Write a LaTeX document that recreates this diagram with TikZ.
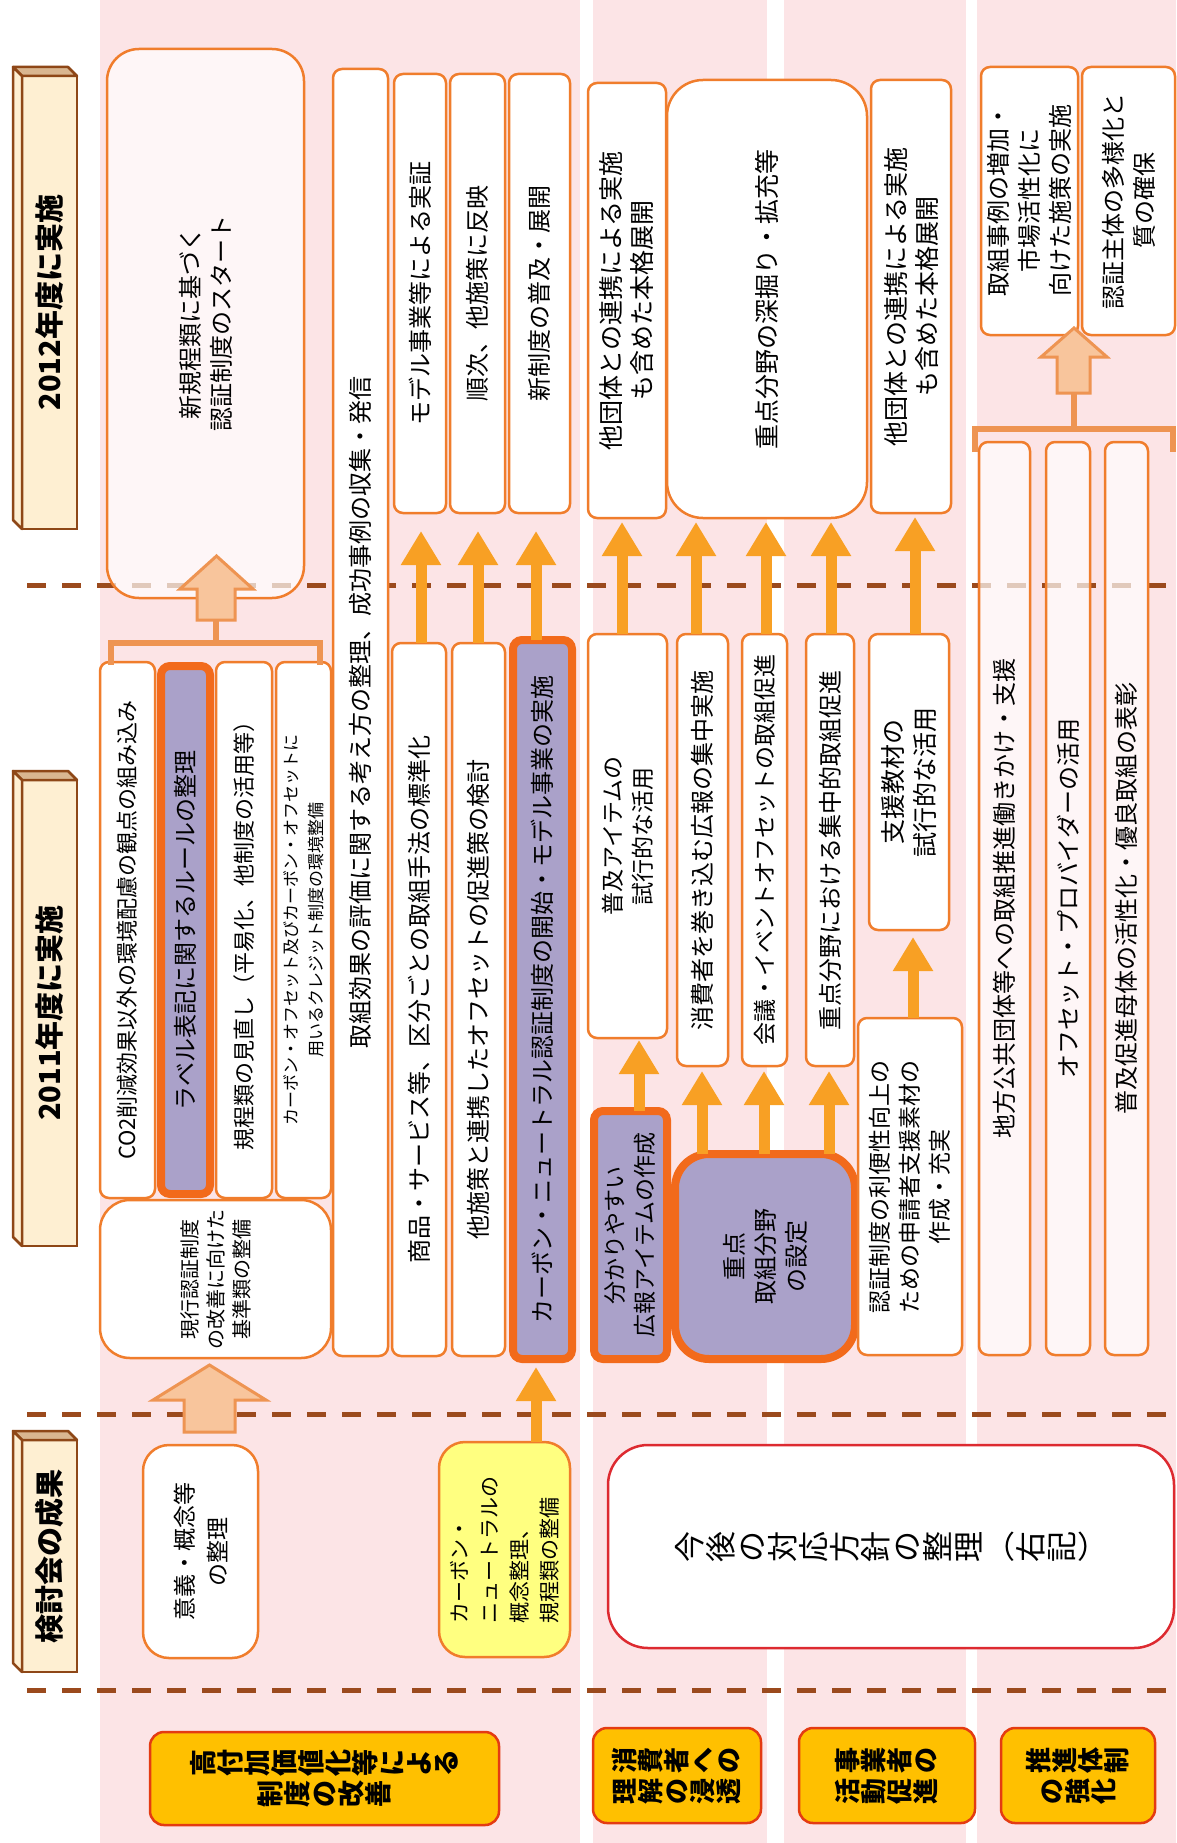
\documentclass[tikz,border=0pt]{standalone}
\usepackage{fontspec}
\setmainfont{Noto Sans CJK JP}
\usepackage{graphicx}
\usetikzlibrary{arrows.meta}
\definecolor{bgpink}{HTML}{FCE4E6}
\definecolor{edge}{HTML}{F07D2C}
\definecolor{edgeHot}{HTML}{F26A1B}
\definecolor{lilac}{HTML}{AAA1C9}
\definecolor{flow}{HTML}{F8A024}
\definecolor{fat}{HTML}{F8C59C}
\definecolor{fatEdge}{HTML}{EE9452}
\definecolor{gold}{HTML}{FFC000}
\definecolor{goldEdge}{HTML}{E43B12}
\definecolor{lemon}{HTML}{FFFF80}
\definecolor{redEdge}{HTML}{DD2A30}
\definecolor{ruleBrown}{HTML}{9B4A1D}
\definecolor{cream}{HTML}{FEEFD2}
\definecolor{creamTop}{HTML}{D9B690}
\definecolor{barEdge}{HTML}{8E4717}
\newcommand\tate[1]{\tateloop#1\relax}
\def\tateloop#1{\ifx\relax#1\else\rotatebox[origin=c]{90}{\makebox[1em][c]{\rule[-0.12em]{0pt}{1em}\smash{#1}}}\expandafter\tateloop\fi}

\begin{document}
\begin{tikzpicture}[x=1pt, y=-1pt,
  vbox/.style={draw=edge, line width=2.5pt, fill=white, rounded corners=9pt, inner sep=0pt, outer sep=0pt, align=center, rotate=90, font=\fontsize{24}{31}\selectfont},
  keybox/.style={vbox, draw=edgeHot, line width=8pt, fill=lilac},
  thinbox/.style={vbox, fill opacity=0.7, text opacity=1},
  yearbar/.style={draw=barEdge, line width=2.5pt, fill=cream, inner sep=0pt, outer sep=0pt, rotate=90, font=\bfseries\fontsize{29}{34}\selectfont},
  barface/.style={draw=barEdge, line width=2.5pt, line join=round},
  theme/.style={draw=goldEdge, line width=2.5pt, fill=gold, rounded corners=14pt, inner sep=0pt, align=center, font=\bfseries\fontsize{26}{31}\selectfont},
  flowarrow/.style={draw=flow, line width=11pt, -{Triangle[width=38pt,length=34pt]}},
  fatarrow/.style={draw=fatEdge, line width=3pt, fill=fat, line join=miter},
  bracket/.style={draw=fatEdge, line width=6pt, line join=miter},
  stageline/.style={draw=ruleBrown, line width=5pt, dash pattern=on 19pt off 16pt}
]
  \useasboundingbox (0,0) rectangle (1176,1843);
  \fill[white] (0,0) rectangle (1176,1843);
  \fill[bgpink] (100,0) rectangle (580,1843);
  \fill[bgpink] (593,0) rectangle (767,1843);
  \fill[bgpink] (784,0) rectangle (966,1843);
  \fill[bgpink] (977,0) rectangle (1176,1843);
  \foreach \yy in {585,1414,1690}
    \draw[stageline] (27,\yy) -- (1176,\yy);

  \node[yearbar, minimum width=453, minimum height=55] (fy2012) at (49.5,302.5) {2012年度に実施};
  \node[yearbar, minimum width=466, minimum height=55] (fy2011) at (49.5,1013) {2011年度に実施};
  \node[yearbar, minimum width=232, minimum height=55] (review) at (49.5,1556) {検討会の成果};
  \foreach \p in {fy2012,fy2011,review}{
    \draw[barface, fill=creamTop] (\p.north east) -- ++(-9,-9) -- ++(55,0) -- (\p.south east) -- cycle;
    \draw[barface, fill=cream] (\p.north east) -- ++(-9,-9) -- ([shift={(-9,-9)}]\p.north west) -- (\p.north west) -- cycle;
  }

  \node[thinbox, rounded corners=32pt, minimum width=549, minimum height=197] (newrules) at (205.5,323.5) {新規程類に基づく\\認証制度のスタート};
  \node[vbox, minimum width=1287, minimum height=55] (evaluate) at (360.5,712.5) {取組効果の評価に関する考え方の整理、成功事例の収集・発信};
  \node[vbox, minimum width=439, minimum height=52] (verify) at (420,293.5) {モデル事業等による実証};
  \node[vbox, minimum width=439, minimum height=55] (reflect) at (477.5,293.5) {順次、他施策に反映};
  \node[vbox, minimum width=439, minimum height=61] (rollout) at (539.5,293.5) {新制度の普及・展開};

  \node[vbox, font=\fontsize{22}{28}\selectfont, minimum width=536, minimum height=55] (ecoview) at (127.5,930) {CO2削減効果以外の環境配慮の観点の組み込み};
  \node[keybox, minimum width=528, minimum height=49] (labelrule) at (185.5,930) {ラベル表記に関するルールの整理};
  \node[vbox, font=\fontsize{22}{28}\selectfont, minimum width=536, minimum height=56] (simplify) at (244,930) {規程類の見直し（平易化、他制度の活用等）};
  \node[vbox, font=\fontsize{17}{25}\selectfont, minimum width=536, minimum height=55] (offsetenv) at (303.5,930) {カーボン・オフセット及びカーボン・オフセットに\\用いるクレジット制度の環境整備};
  \node[vbox, rounded corners=30pt, font=\fontsize{20}{26}\selectfont, minimum width=158, minimum height=231] (curbase) at (215.5,1279) {現行認証制度\\の改善に向けた\\基準類の整備};
  \node[vbox, minimum width=713, minimum height=54] (standard) at (419,999.5) {商品・サービス等、区分ごとの取組手法の標準化};
  \node[vbox, minimum width=713, minimum height=53] (linkage) at (478.5,999.5) {他施策と連携したオフセットの促進策の検討};
  \node[keybox, minimum width=719, minimum height=59] (cnstart) at (542.5,999.5) {カーボン・ニュートラル認証制度の開始・モデル事業の実施};

  \node[vbox, rounded corners=26pt, font=\fontsize{23}{33}\selectfont, minimum width=213, minimum height=115] (meaning) at (200.5,1551.5) {意義・概念等\\の整理};
  \node[vbox, fill=lemon, align=left, rounded corners=26pt, font=\fontsize{21}{30}\selectfont, minimum width=215, minimum height=131] (cnconcept) at (504.5,1549.5) {カーボン・\\ニュートラルの\\概念整理、\\規程類の整備};

  \node[keybox, font=\fontsize{23}{30}\selectfont, minimum width=248, minimum height=73] (easyitem) at (630.5,1235) {分かりやすい\\広報アイテムの作成};
  \node[keybox, rounded corners=34pt, minimum width=205, minimum height=180] (focusset) at (765,1256.5) {重点\\取組分野\\の設定};
  \node[vbox, font=\fontsize{23}{30}\selectfont, minimum width=404, minimum height=79] (trialitem) at (627.5,836) {普及アイテムの\\試行的な活用};
  \node[vbox, minimum width=432, minimum height=51] (consumer) at (702.5,850) {消費者を巻き込む広報の集中実施};
  \node[vbox, font=\fontsize{23}{30}\selectfont, minimum width=432, minimum height=45] (eventoff) at (764.5,850) {会議・イベントオフセットの取組促進};
  \node[vbox, minimum width=432, minimum height=48] (areafocus) at (830,850) {重点分野における集中的取組促進};
  \node[vbox, font=\fontsize{25}{32}\selectfont, minimum width=296, minimum height=80] (trialmat) at (909,782) {支援教材の\\試行的な活用};
  \node[vbox, font=\fontsize{23}{30}\selectfont, minimum width=337, minimum height=104] (supportmat) at (910,1186.5) {認証制度の利便性向上の\\ための申請者支援素材の\\作成・充実};

  \node[vbox, font=\fontsize{25}{31}\selectfont, minimum width=435, minimum height=78] (partner1) at (627,300.5) {他団体との連携による実施\\も含めた本格展開};
  \node[vbox, rounded corners=36pt, font=\fontsize{25}{31}\selectfont, minimum width=438, minimum height=200] (deepen) at (767,299) {重点分野の深掘り・拡充等};
  \node[vbox, font=\fontsize{25}{31}\selectfont, minimum width=433, minimum height=80] (partner2) at (911,296.5) {他団体との連携による実施\\も含めた本格展開};

  \node[thinbox, minimum width=913, minimum height=51] (localgov) at (1004.5,898.5) {地方公共団体等への取組推進働きかけ・支援};
  \node[thinbox, minimum width=913, minimum height=44] (provider) at (1068,898.5) {オフセット・プロバイダーの活用};
  \node[thinbox, minimum width=913, minimum height=43] (award) at (1126.5,898.5) {普及促進母体の活性化・優良取組の表彰};
  \node[vbox, minimum width=268, minimum height=97] (casegrow) at (1029.5,201) {取組事例の増加・\\市場活性化に\\向けた施策の実施};
  \node[vbox, minimum width=268, minimum height=93] (diverse) at (1128.5,201) {認証主体の多様化と\\質の確保};

  \node[draw=redEdge, line width=2.5pt, fill=white, rounded corners=40pt, inner sep=0pt, minimum width=566, minimum height=203, font=\fontsize{31}{36}\selectfont] (policy) at (891,1546.5) {\tate{今後の対応方針の整理}（\tate{右記}）};

  \node[theme, font=\bfseries\fontsize{27}{31}\selectfont, minimum width=349, minimum height=93] (catvalue) at (324.5,1778.5) {\tate{高付加価値化等による}\\\tate{制度の改善}};
  \node[theme, minimum width=168, minimum height=95] (catconsumer) at (677,1775.5) {\tate{消費者への}\\\tate{理解の浸透}};
  \node[theme, minimum width=176, minimum height=95] (catbiz) at (887,1775.5) {\tate{事業者の}\\\tate{活動促進}};
  \node[theme, minimum width=154, minimum height=95] (catsys) at (1078,1775.5) {\tate{推進体制}\\\tate{の強化}};

  \draw[bracket] (111,665) -- (111,643) -- (320,643) -- (320,665);
  \draw[bracket] (216,643) -- (216,620);
  \draw[fatarrow] (197,620) -- (197,589) -- (180,589) -- (216.5,556) -- (253,589) -- (235,589) -- (235,620) -- cycle;
  \draw[fatarrow] (184,1432) -- (184,1400) -- (153,1400) -- (209.5,1365) -- (266,1400) -- (235,1400) -- (235,1432) -- cycle;
  \draw[bracket] (975,452) -- (975,429) -- (1173,429) -- (1173,452);
  \draw[bracket] (1074,429) -- (1074,393);
  \draw[fatarrow] (1057,393) -- (1057,357) -- (1041,357) -- (1074,328) -- (1107,357) -- (1090,357) -- (1090,393) -- cycle;

  \draw[flowarrow, shorten >=8pt] (536,0 |- cnconcept.east) -- (536,0 |- cnstart.west);
  \draw[flowarrow, shorten >=18pt] (421,0 |- standard.east) -- (421,0 |- verify.west);
  \draw[flowarrow, shorten >=18pt] (478,0 |- linkage.east) -- (478,0 |- reflect.west);
  \draw[flowarrow, shorten >=18pt] (536,0 |- cnstart.east) -- (536,0 |- rollout.west);
  \draw[flowarrow, shorten >=2pt] (639,0 |- easyitem.east) -- (639,0 |- trialitem.west);
  \draw[flowarrow, shorten >=5pt] (702,0 |- focusset.east) -- (702,0 |- consumer.west);
  \draw[flowarrow, shorten >=5pt] (764,0 |- focusset.east) -- (764,0 |- eventoff.west);
  \draw[flowarrow, shorten >=5pt] (829,0 |- focusset.east) -- (829,0 |- areafocus.west);
  \draw[flowarrow, shorten >=7pt] (913,0 |- supportmat.east) -- (913,0 |- trialmat.west);
  \draw[flowarrow, shorten >=4pt] (622,0 |- trialitem.east) -- (622,0 |- partner1.west);
  \draw[flowarrow, shorten >=4pt] (696,0 |- consumer.east) -- (696,0 |- deepen.west);
  \draw[flowarrow, shorten >=4pt] (766,0 |- eventoff.east) -- (766,0 |- deepen.west);
  \draw[flowarrow, shorten >=4pt] (831,0 |- areafocus.east) -- (831,0 |- deepen.west);
  \draw[flowarrow, shorten >=4pt] (915,0 |- trialmat.east) -- (915,0 |- partner2.west);
\end{tikzpicture}
\end{document}
